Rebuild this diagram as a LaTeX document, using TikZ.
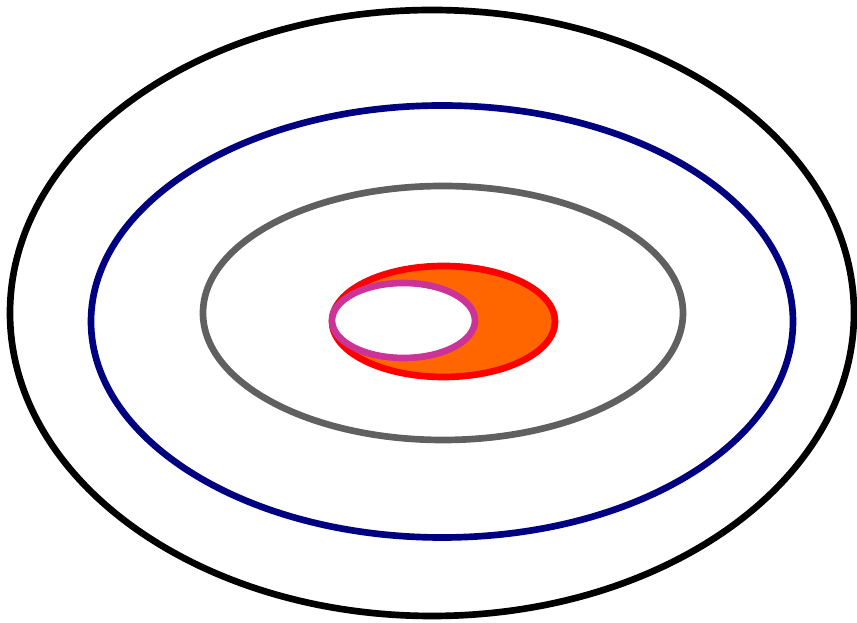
\documentclass[tikz,border=0pt]{standalone}
\usepackage{tikz}
\usetikzlibrary{calc}

\definecolor{navyring}{RGB}{0,0,128}
\definecolor{grayring}{RGB}{96,96,96}
\definecolor{orangefill}{RGB}{255,102,0}
\definecolor{magentaring}{RGB}{204,51,153}

\begin{document}
\begin{tikzpicture}[x=0.03cm,y=0.03cm,line width=0.2cm]
  \useasboundingbox (0,0) rectangle (857,623);
  \coordinate (C) at (432,310);
  \coordinate (B) at (442,301.5);
  \coordinate (G) at (443,310);
  \coordinate (R) at (443.5,301.5);
  \coordinate (M) at (403.5,302.5);
  \draw[black] (C) ellipse[x radius=422,y radius=303];
  \draw[navyring] (B) ellipse[x radius=351,y radius=216];
  \draw[grayring] (G) ellipse[x radius=240,y radius=127];
  \draw[red,fill=orangefill] (R) ellipse[x radius=111.5,y radius=55.5];
  \draw[magentaring,fill=white] (M) ellipse[x radius=71.5,y radius=37.5];
\end{tikzpicture}
\end{document}
